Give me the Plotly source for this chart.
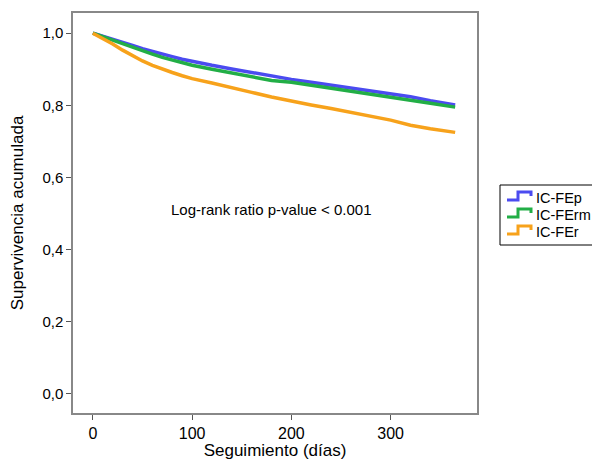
import plotly.graph_objects as go

days = [0, 10, 20, 30, 40, 50, 60, 70, 80, 90, 100, 120, 140, 160, 180, 200, 220, 240, 260, 280, 300, 320, 340, 365]
surv_fep = [1.0, 0.992, 0.984, 0.975, 0.966, 0.957, 0.949, 0.942, 0.935, 0.928, 0.922, 0.911, 0.901, 0.891, 0.881, 0.872, 0.864, 0.856, 0.848, 0.840, 0.833, 0.824, 0.813, 0.801]
surv_ferm = [1.0, 0.990, 0.981, 0.971, 0.961, 0.951, 0.942, 0.933, 0.925, 0.918, 0.911, 0.900, 0.890, 0.879, 0.869, 0.864, 0.856, 0.848, 0.840, 0.832, 0.824, 0.815, 0.806, 0.795]
surv_fer = [1.0, 0.986, 0.970, 0.953, 0.937, 0.923, 0.911, 0.900, 0.891, 0.882, 0.874, 0.862, 0.850, 0.836, 0.823, 0.811, 0.801, 0.791, 0.780, 0.769, 0.759, 0.745, 0.735, 0.725]
series_names = ["IC-FEp", "IC-FErm", "IC-FEr"]
colors = ["#4B4BF0", "#22AE46", "#F7A21B"]
x_ticks = [0, 100, 200, 300]
y_ticks = [0.0, 0.2, 0.4, 0.6, 0.8, 1.0]
y_tick_labels = ["0,0", "0,2", "0,4", "0,6", "0,8", "1,0"]

FONT = "Liberation Sans, Arial, sans-serif"
OFF = 8  # default page body margin
W, H = 600 - OFF, 460 - OFF
L, T = 73 - OFF, 13 - OFF
R, B = W - (477 - OFF), H - (413 - OFF)
PW, PH = W - L - R, H - T - B


def px(x):
    return (x - OFF - L) / PW


def py(y):
    return (T + PH - (y - OFF)) / PH


fig = go.Figure()
for name, ys, c in zip(series_names, [surv_fep, surv_ferm, surv_fer], colors):
    fig.add_trace(go.Scatter(x=days, y=ys, mode="lines", name=name, showlegend=False,
                             line=dict(color=c, width=3.5)))

fig.add_annotation(x=px(271), y=py(209), xref="paper", yref="paper",
                   text="Log-rank ratio p-value < 0.001", showarrow=False,
                   font=dict(size=15, color="black", family=FONT))

# manual legend (box, step-shaped symbols, labels)
shapes = [dict(type="rect", xref="paper", yref="paper",
               x0=px(500), x1=px(599), y0=py(245), y1=py(185),
               line=dict(color="black", width=1), fillcolor="white", layer="below")]
rows = [198, 215, 232]
for name, c, yc in zip(series_names, colors, rows):
    pts = [(507, yc + 2), (518, yc + 2), (518, yc - 6), (531, yc - 6), (531, yc - 2)]
    path = "M " + " L ".join(f"{px(a):.5f},{py(b):.5f}" for a, b in pts)
    shapes.append(dict(type="path", xref="paper", yref="paper", path=path,
                       line=dict(color=c, width=3)))
    fig.add_annotation(x=px(534), y=py(yc), xref="paper", yref="paper",
                       xanchor="left", yanchor="middle", text=name, showarrow=False,
                       font=dict(size=14.5, color="black", family=FONT))

fig.update_layout(
    width=W, height=H,
    margin=dict(l=L, r=R, t=T, b=B),
    paper_bgcolor="white", plot_bgcolor="white",
    font=dict(family=FONT, color="black"),
    showlegend=False,
    shapes=shapes,
)
fig.update_xaxes(range=[-20, 387], tickvals=x_ticks, ticks="outside", ticklen=5,
                 tickcolor="#555", linecolor="#888", linewidth=1.5, mirror=True,
                 showgrid=False, zeroline=False, tickfont=dict(size=16),
                 automargin=False,
                 title=dict(text="Seguimiento (días)", font=dict(size=17), standoff=2))
fig.update_yaxes(range=[-0.053, 1.056], tickvals=y_ticks, ticktext=y_tick_labels,
                 ticks="outside", ticklen=5, tickcolor="#555", linecolor="#888",
                 linewidth=1.5, mirror=True, showgrid=False, zeroline=False,
                 tickfont=dict(size=15), automargin=False,
                 title=dict(text="Supervivencia acumulada", font=dict(size=17), standoff=14))

fig.write_html("out.html")
